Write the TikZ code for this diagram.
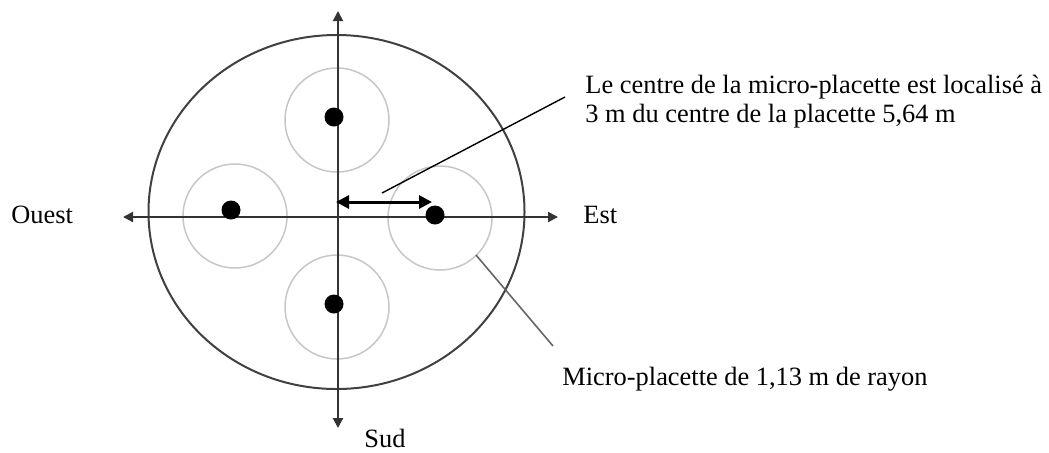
\documentclass[tikz,border=0pt]{standalone}
\usepackage{fontspec}
\setmainfont{Liberation Serif}
\usetikzlibrary{arrows.meta}
\tikzset{
  axis/.style={line width=1pt, draw=black!80, {Triangle[length=5pt,width=5pt]}-{Triangle[length=5pt,width=5pt]}},
  micro/.style={line width=0.75pt, draw=black!22},
  dot/.style={circle, fill=black, inner sep=0pt, minimum size=9.5pt},
  txt/.style={inner sep=0pt, anchor=base west, font=\fontsize{13.2}{14.5}\selectfont},
}
\begin{document}
\begin{tikzpicture}[x=0.5pt, y=-0.5pt]
        \useasboundingbox (0,0) rectangle (1049,452);
        \coordinate (N) at (338,11);
        \coordinate (S) at (338,428);
        \coordinate (W) at (123,217);
        \coordinate (E) at (558,217);
        % placette
        \draw[line width=1pt, black!75] (336.5,212) ellipse [x radius=188, y radius=177];
        % micro-placettes
        \foreach \cx/\cy in {337/120, 235/216, 440/218, 337/307}
          \draw[micro] (\cx,\cy) circle [radius=52];
        \draw[axis] (N) -- (S);
        \draw[axis] (W) -- (E);
        \foreach \dx/\dy/\name in {334/117/n, 231/210/w, 435/215/e, 334/304/s}
          \node[dot] (\name) at (\dx,\dy) {};
        % distance
        \coordinate (c) at (336,202);
        \coordinate (ce) at (432,202);
        \draw[line width=1.5pt, {Triangle[length=6.5pt,width=6.5pt]}-{Triangle[length=6.5pt,width=6.5pt]}] (c) -- (ce);
        % textes
        \node[txt] (ouest) at (11,223) {Ouest};
        \node[txt] (est) at (583,223) {Est};
        \node[txt] (sud) at (364,447) {Sud};
        \node[txt] (rayon) at (562,385) {Micro-placette de 1,13 m de rayon};
        \node[txt, align=left] (centre) at (585,122)
          {Le centre de la micro-placette est localisé à\\3 m du centre de la placette 5,64 m};
        % renvois
        \coordinate (p1) at (382,193);
        \coordinate (q1) at (565,97);
        \draw[line width=0.7pt] (p1) -- (q1);
        \coordinate (p2) at (476,255);
        \coordinate (q2) at (553,346);
        \draw[line width=0.8pt, black!60] (p2) -- (q2);
\end{tikzpicture}
\end{document}
